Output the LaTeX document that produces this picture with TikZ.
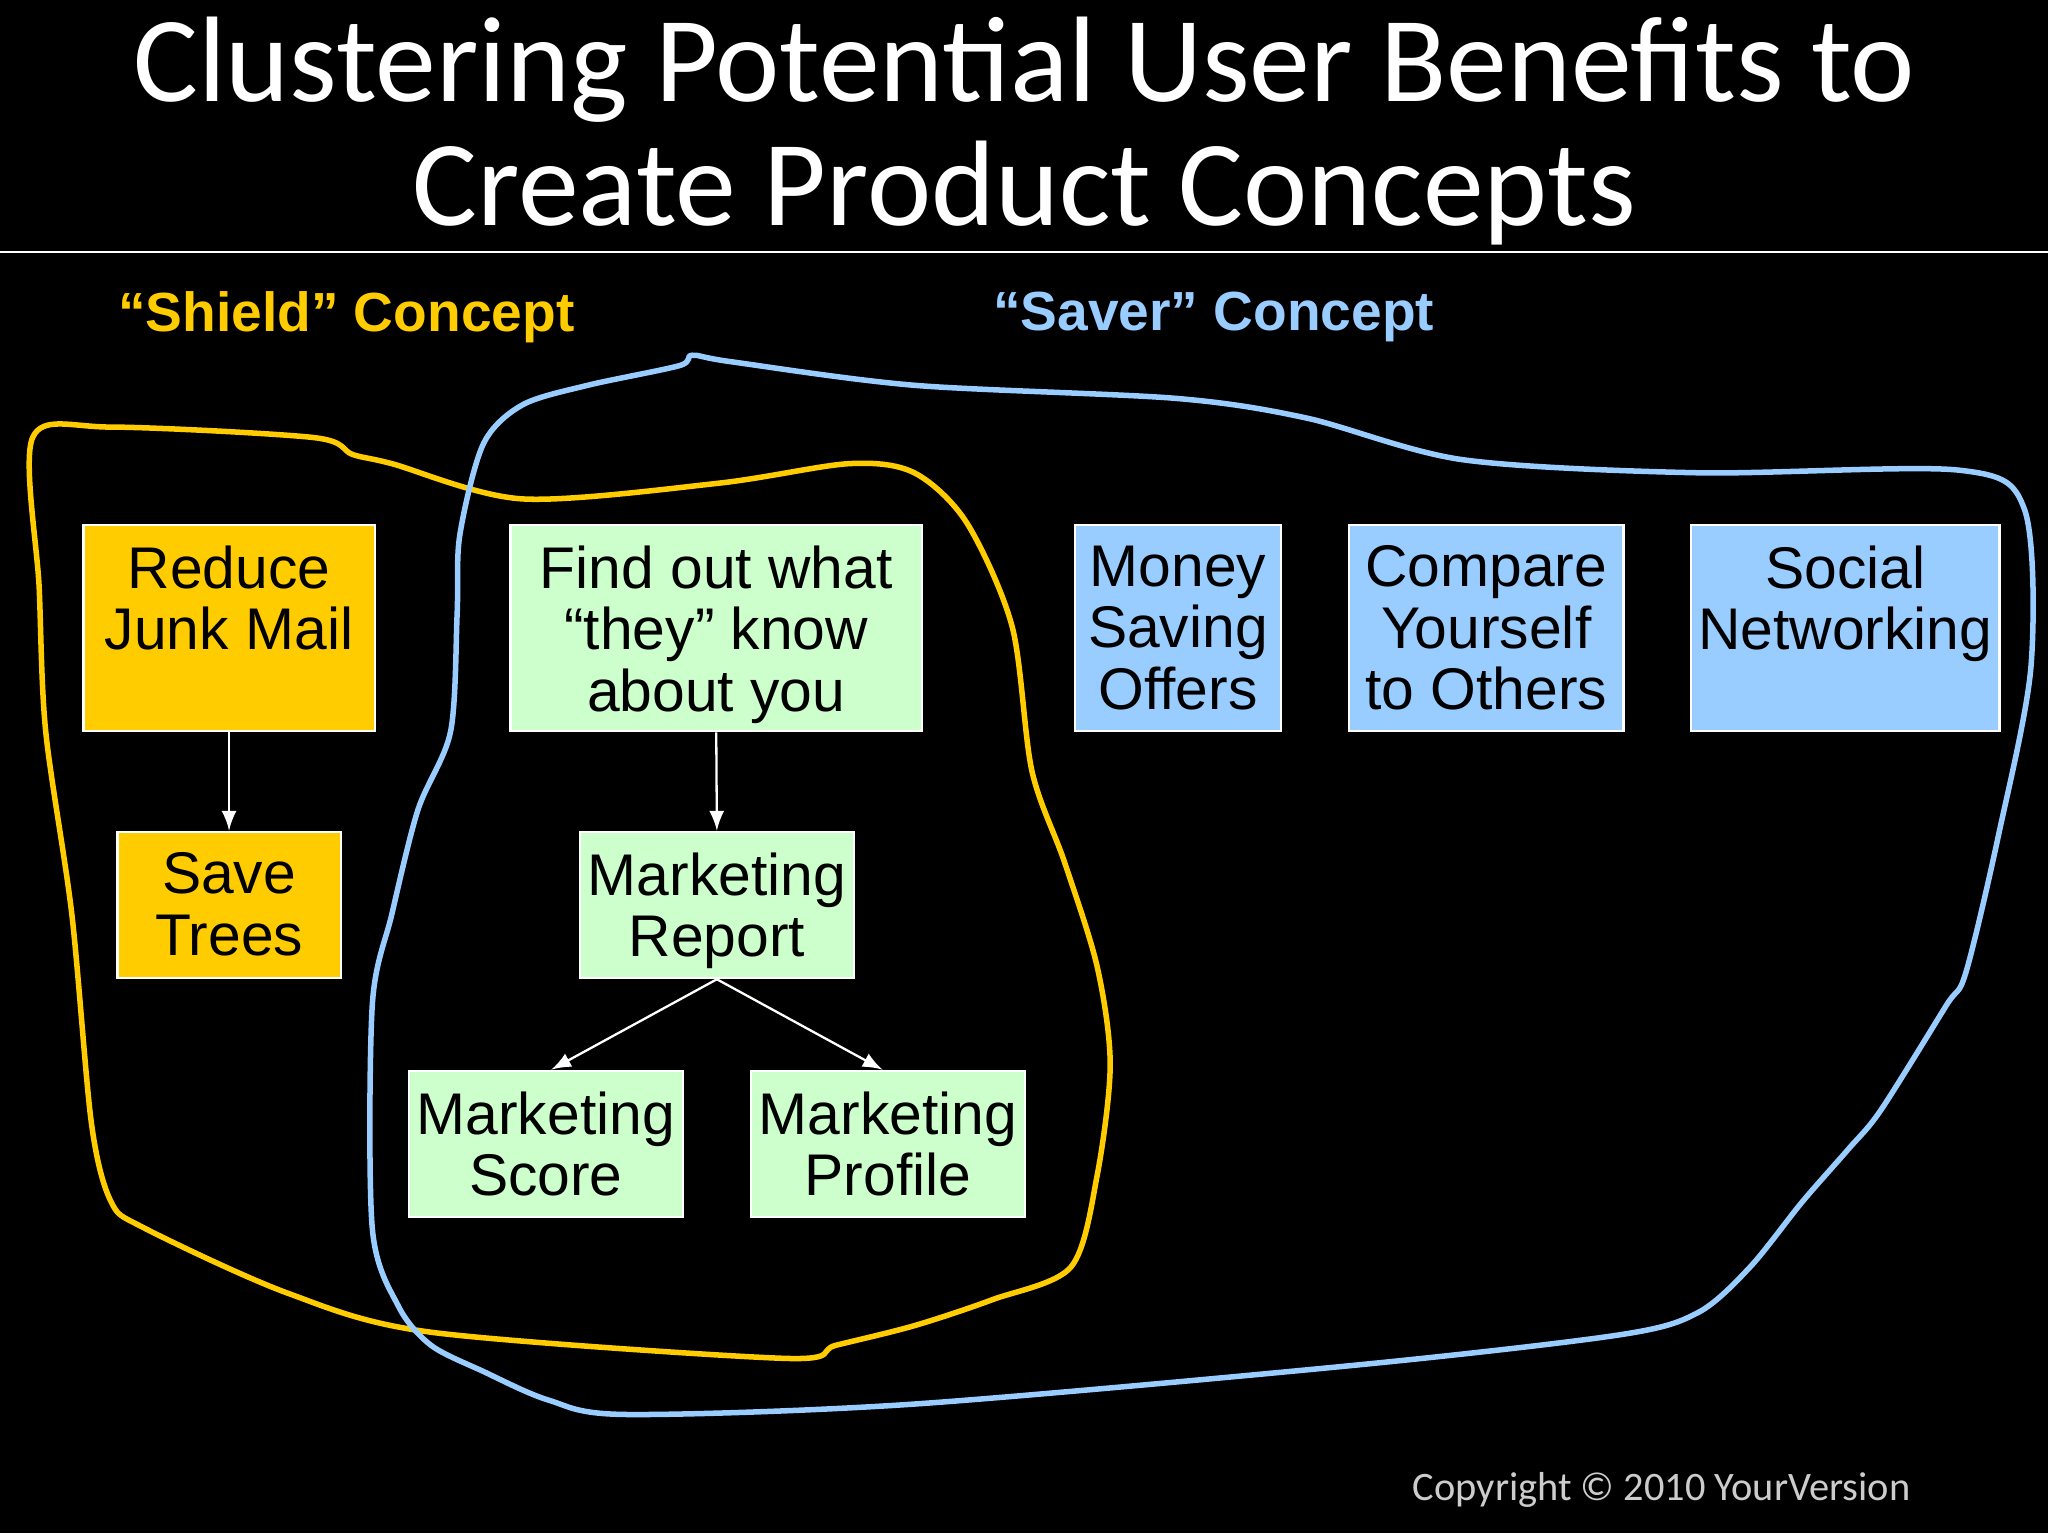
\documentclass[tikz,border=0pt]{standalone}
\usepackage{fontspec}
\setmainfont{Liberation Sans}
\newfontfamily\calib{Carlito}
\definecolor{gold}{HTML}{FFCC00}
\definecolor{lgreen}{HTML}{CCFFCC}
\definecolor{lblue}{HTML}{99CCFF}
\begin{document}
\begin{tikzpicture}[x=0.01cm,y=-0.01cm,
  boxr/.style={draw=white,line width=0.5pt,inner sep=0,anchor=north west},
  btext/.style={anchor=north,inner sep=0,align=center,font=\fontsize{12.8}{13.4}\selectfont},
  conn/.style={draw=white,line width=0.5pt,-{latex}}]
\fill[black] (0,0) rectangle (1568,1174);
\useasboundingbox (0,0) rectangle (1568,1174);
\node[text=white,align=center,font=\calib\fontsize{26.5}{27}\selectfont] (title) at (784,100) {Clustering Potential User Benefits to\\Create Product Concepts};
\draw[white,line width=0.5pt] (0,193) -- (1568,193);
\node[text=gold,font=\bfseries\fontsize{12}{14}\selectfont,anchor=west] (shield) at (78,243) {“Shield” Concept};
\node[text=lblue,font=\bfseries\fontsize{12}{14}\selectfont,anchor=west] (saver) at (748,243) {“Saver” Concept};
\node[text=white!80!black,font=\calib\fontsize{8.8}{10}\selectfont,anchor=east] (copy) at (1475,1141) {Copyright © 2010 YourVersion};
% boxes
\newcommand\bx[7]{% name, x1,y1,x2,y2,color,text
  \path (#2,#3) coordinate (#1nw);
  \node[boxr,fill=#6,minimum width={(#4-#2)*0.01cm},minimum height={(#5-#3)*0.01cm}] (#1) at (#1nw) {};
  \node[btext] (#1t) at ([yshift=-0.16cm]#1.north) {#7};}
\bx{rjm}{63}{401}{286}{559}{gold}{Reduce\\Junk Mail}
\bx{st}{89}{636}{260}{748}{gold}{Save\\Trees}
\bx{fo}{390}{401}{705}{559}{lgreen}{Find out what\\“they” know\\about you}
\bx{mr}{443}{636}{653}{748}{lgreen}{Marketing\\Report}
\bx{ms}{312}{819}{522}{931}{lgreen}{Marketing\\Score}
\bx{mp}{574}{819}{784}{931}{lgreen}{Marketing\\Profile}
\bx{mso}{822}{401}{980}{559}{lblue}{Money\\Saving\\Offers}
\bx{cy}{1032}{401}{1242}{559}{lblue}{Compare\\Yourself\\to Others}
\bx{sn}{1294}{401}{1530}{559}{lblue}{Social\\Networking}
\draw[conn] (rjm.south) -- (st.north);
\draw[conn] (fo.south) -- (mr.north);
\draw[conn] (mr.south) -- ([xshift=1.1cm]ms.north west);
\draw[conn] (mr.south) -- ([xshift=-1.1cm]mp.north east);
% yellow curve
\draw[gold,line width=1.2pt] plot[smooth cycle,tension=0.5] coordinates {(25,335) (85,327) (240,335) (270,348) (300,355) (400,382) (550,370) (650,355) (700,362) (740,400) (775,480) (790,590) (815,660) (840,740) (850,815) (840,900) (820,970) (760,995) (700,1015) (640,1030) (600,1040) (330,1020) (220,990) (110,940) (85,920) (70,860) (55,700) (35,560) (30,450)};
% blue curve
\draw[lblue,line width=1.2pt] plot[smooth cycle,tension=0.5] coordinates {(530,272) (560,277) (700,295) (900,305) (1000,320) (1120,352) (1300,362) (1500,360) (1550,390) (1555,510) (1530,640) (1505,745) (1490,770) (1440,850) (1415,880) (1380,920) (1340,970) (1300,1005) (1240,1022) (1040,1045) (700,1075) (480,1083) (420,1072) (370,1050) (330,1030) (305,1000) (285,940) (285,770) (300,700) (320,620) (345,560) (350,470) (352,410) (370,340) (400,310) (450,295) (520,280)};
\end{tikzpicture}
\end{document}
